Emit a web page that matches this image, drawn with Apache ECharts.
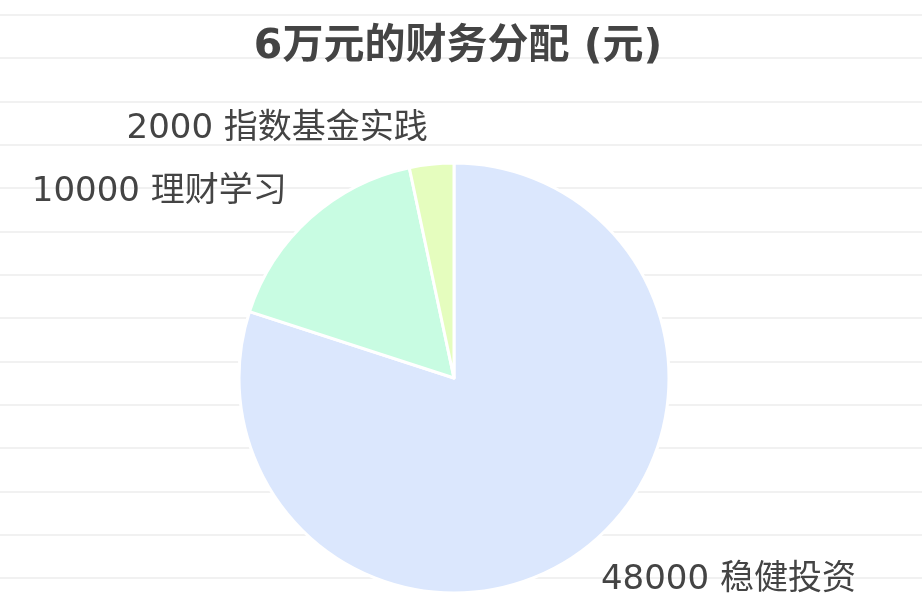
<!DOCTYPE html>
<html>
<head>
<meta charset="utf-8">
<script src="https://cdn.jsdelivr.net/npm/echarts@6/dist/echarts.min.js"></script>
<style>
html, body { margin: 0; padding: 0; background: #fff; }
#container {
    width: 922px; height: 606px;
    background-image: repeating-linear-gradient(to bottom, transparent 0, transparent 14px, #f1f1f1 14px, #f1f1f1 16px, transparent 16px, transparent 43.33px);
}
</style>
</head>
<body>
<div id="container"></div>
<script>
var titleText = '6万元的财务分配 (元)';
var names = ['稳健投资', '理财学习', '指数基金实践'];
var values = [48000, 10000, 2000];
var colors = ['#dbe7fd', '#c8fce2', '#e5fdbe'];

var fontStack = '"DejaVu Sans", "Noto Sans CJK SC", sans-serif';

var myChart = echarts.init(document.getElementById('container'));
var option = {
    animation: false,
    title: {
        text: titleText,
        left: 453,
        top: 22,
        textAlign: 'center',
        textStyle: {
            fontFamily: fontStack,
            fontSize: 41,
            fontWeight: 'bold',
            color: '#444'
        }
    },
    color: colors,
    series: [{
        type: 'pie',
        center: [454, 378],
        radius: 215,
        startAngle: 90,
        clockwise: true,
        avoidLabelOverlap: false,
        data: names.map((n, i) => ({ name: n, value: values[i] })),
        itemStyle: {
            borderColor: '#fff',
            borderWidth: 3
        },
        label: {
            show: true,
            position: 'outside',
            formatter: '{c} {b}',
            fontFamily: fontStack,
            fontSize: 34,
            color: '#444',
            distanceToLabelLine: 0
        },
        labelLine: {
            show: false,
            length: 35,
            length2: 0
        }
    }]
};
myChart.setOption(option);
</script>
</body>
</html>
